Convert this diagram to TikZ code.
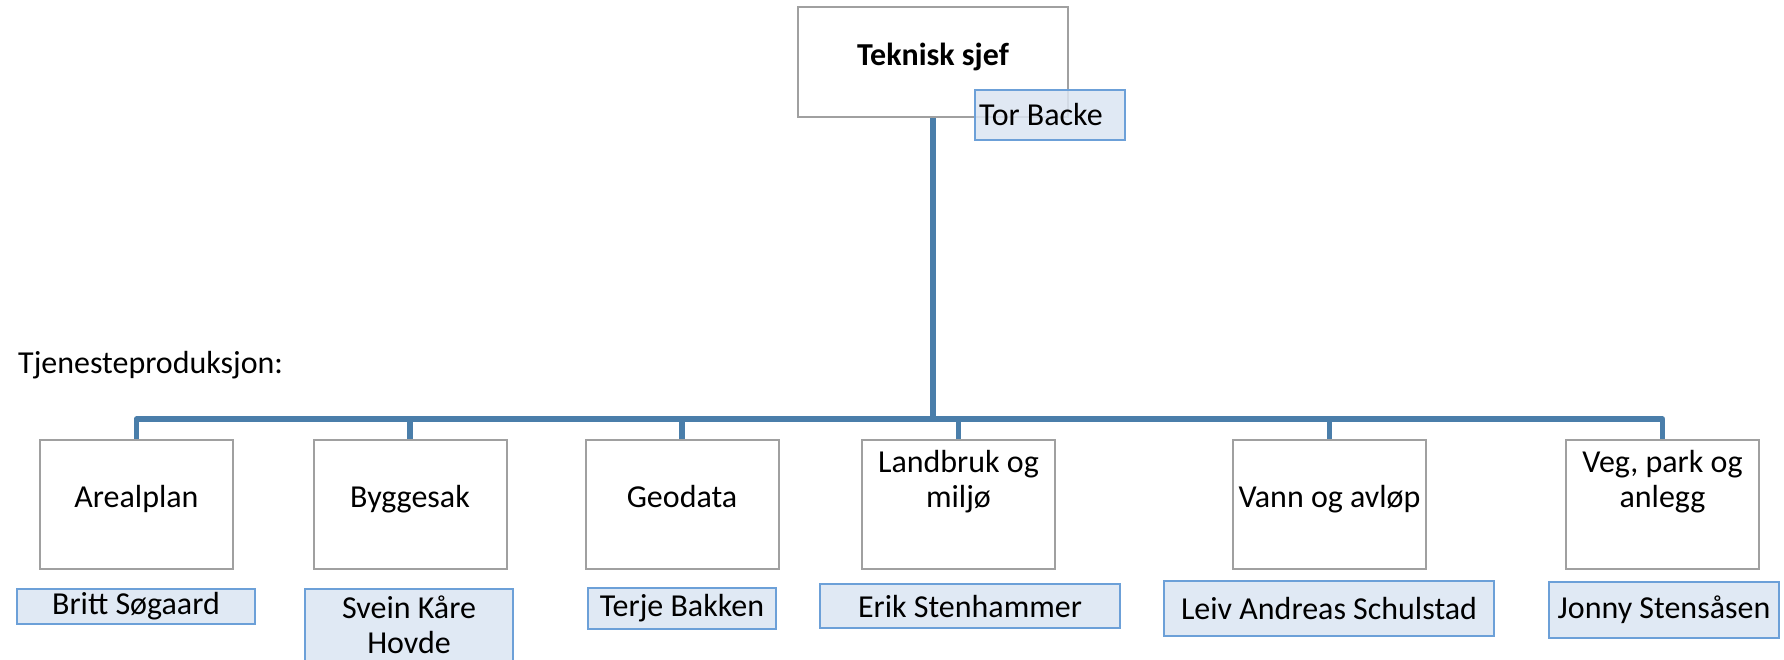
\documentclass[tikz,border=0pt]{standalone}
\usepackage{fontspec}
\setmainfont{Carlito}
\definecolor{connblue}{RGB}{74,126,170}
\definecolor{namefill}{RGB}{219,229,242}
\definecolor{nameborder}{RGB}{108,160,216}
\definecolor{boxgray}{RGB}{160,160,160}
\begin{document}
\begin{tikzpicture}
    % Node styles
    \tikzstyle{box_style} = [rectangle, draw=boxgray, line width=0.04cm, fill=white, minimum width=3.86cm, minimum height=2.58cm, align=center, text height=0.47cm, text depth=0.34cm, font=\fontsize{18.2}{19.9}\selectfont]
    \tikzstyle{name_style} = [rectangle, draw=nameborder, line width=0.04cm, fill=namefill, fill opacity=0.85, text opacity=1, inner sep=0.08cm, align=center, font=\fontsize{18.2}{19.9}\selectfont]
    \tikzstyle{line_style} = [draw=connblue, line width=0.11cm, line join=round]

    \useasboundingbox (0,0) rectangle (35.68,-13.18);

    % Top node
    \node[box_style, minimum width=5.4cm, minimum height=2.2cm, font=\fontsize{18.2}{19.9}\selectfont\bfseries] (teknisk) at (18.66,-1.24) {Teknisk sjef};
    \node[name_style, minimum width=3.0cm, minimum height=1.0cm, text width=2.84cm, align=flush left] (tor) at (21.0,-2.3) {Tor Backe};

    % Label for the row
    \node[anchor=base west, font=\fontsize{18.2}{19.9}\selectfont] (tjeneste) at (0.24,-7.46) {Tjenesteproduksjon:};

    % Units
    \node[box_style] (areal) at (2.73,-10.09) {Arealplan};
    \node[box_style] (bygg) at (8.2,-10.09) {Byggesak};
    \node[box_style] (geo) at (13.64,-10.09) {Geodata};
    \node[box_style] (land) at (19.17,-10.09) {Landbruk og\\miljø};
    \node[box_style] (vann) at (26.59,-10.09) {Vann og avløp};
    \node[box_style] (veg) at (33.25,-10.09) {Veg, park og\\anlegg};

    % Names under the units
    \node[name_style, minimum width=4.76cm, minimum height=0.62cm] (britt) at (2.72,-12.13) {Britt Søgaard};
    \node[name_style, minimum width=4.16cm, minimum height=1.62cm, text depth=0.2cm] (svein) at (8.18,-12.59) {Svein Kåre\\Hovde};
    \node[name_style, minimum width=3.76cm, minimum height=0.82cm] (terje) at (13.64,-12.16) {Terje Bakken};
    \node[name_style, minimum width=6.0cm, minimum height=0.88cm] (erik) at (19.40,-12.12) {Erik Stenhammer};
    \node[name_style, minimum width=6.6cm, minimum height=1.1cm] (leiv) at (26.58,-12.17) {Leiv Andreas Schulstad};
    \node[name_style, minimum width=4.6cm, minimum height=1.12cm] (jonny) at (33.28,-12.2) {Jonny Stensåsen};

    % Lines
    \coordinate (bus) at (18.66,-8.38);
    \draw[line_style] (teknisk.south) -- (bus);
    \draw[line_style] (bus) -| (areal.north);
    \draw[line_style] (bus) -| (bygg.north);
    \draw[line_style] (bus) -| (geo.north);
    \draw[line_style] (bus) -| (land.north);
    \draw[line_style] (bus) -| (vann.north);
    \draw[line_style] (bus) -| (veg.north);
\end{tikzpicture}
\end{document}
